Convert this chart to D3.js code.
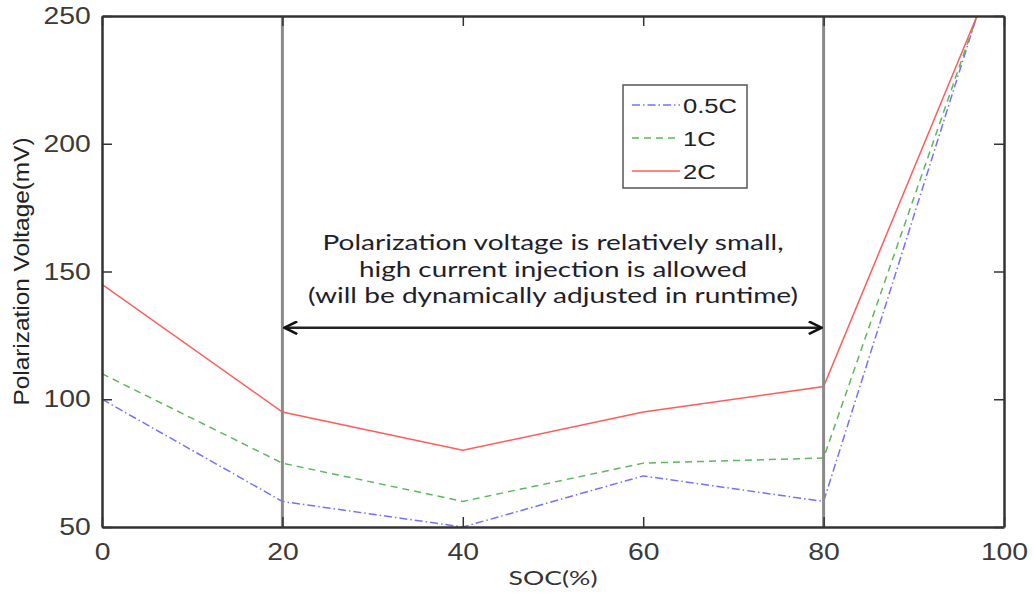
<!DOCTYPE html>
<html>
<head>
<meta charset="utf-8">
<script src="https://cdn.jsdelivr.net/npm/d3@7"></script>
<style>
  body { margin: 0; background: #fff; }
  svg { display: block; }
</style>
</head>
<body>
<svg id="chart" width="1033" height="596"></svg>
<script>
// SOC points (%) and polarization voltage (mV) per charge rate
var soc = [0, 20, 40, 60, 80, 97];
var v05C = [100, 60, 50, 70, 60, 250];
var v1C = [110, 75, 60, 75, 77, 250];
var v2C = [145, 95, 80, 95, 105, 250];

var xTicks = [0, 20, 40, 60, 80, 100];
var yTicks = [50, 100, 150, 200, 250];
var markers = [20, 80];   // vertical guide lines
var arrowLevel = 128;     // mV level of the double arrow

var series = [
    {name: "0.5C", values: v05C, color: "#7272ff", dash: "8,3,1.5,3"},
    {name: "1C", values: v1C, color: "#5cb85c", dash: "7,5"},
    {name: "2C", values: v2C, color: "#ff5c5c", dash: null}
];

var svg = d3.select("#chart");
var plotL = 102, plotR = 1004, plotT = 16, plotB = 527;

var x = d3.scaleLinear().domain([0, 100]).range([plotL, plotR]);
var y = d3.scaleLinear().domain([50, 250]).range([plotB, plotT]);

// the reference picture is stretched sideways, so text is widened too
var stretch = 1.18;

var defs = svg.append("defs");
defs.append("clipPath").attr("id", "clip")
    .append("rect")
    .attr("x", plotL).attr("y", plotT)
    .attr("width", plotR - plotL).attr("height", plotB - plotT);

defs.append("marker")
    .attr("id", "head")
    .attr("viewBox", "0 0 10 10")
    .attr("refX", 9).attr("refY", 5)
    .attr("markerWidth", 16).attr("markerHeight", 14)
    .attr("markerUnits", "userSpaceOnUse")
    .attr("orient", "auto-start-reverse")
    .attr("preserveAspectRatio", "none")
    .append("path")
    .attr("d", "M1,0.5 L9,5 L1,9.5")
    .attr("fill", "none")
    .attr("stroke", "#111")
    .attr("stroke-width", 1.8);

var line = d3.line()
    .x(function(d, i) { return x(soc[i]); })
    .y(function(d) { return y(d); });

var plot = svg.append("g").attr("clip-path", "url(#clip)");

plot.selectAll(".series")
    .data(series)
    .enter()
    .append("path")
    .classed("series", true)
    .attr("d", function(d) { return line(d.values); })
    .attr("fill", "none")
    .attr("stroke", function(d) { return d.color; })
    .attr("stroke-width", 1.5)
    .attr("stroke-dasharray", function(d) { return d.dash; });

// vertical guide lines at 20% and 80%
svg.selectAll(".marker")
    .data(markers)
    .enter()
    .append("line")
    .attr("x1", d => x(d)).attr("x2", d => x(d))
    .attr("y1", plotT).attr("y2", plotB)
    .attr("stroke", "#8a8a8a")
    .attr("stroke-width", 3);

// double-headed arrow between the guides
svg.append("line")
    .attr("x1", x(markers[0]) + 2).attr("x2", x(markers[1]) - 2)
    .attr("y1", y(arrowLevel)).attr("y2", y(arrowLevel))
    .attr("stroke", "#222")
    .attr("stroke-width", 2.4)
    .attr("marker-start", "url(#head)")
    .attr("marker-end", "url(#head)");

var note = ["Polarization voltage is relatively small,",
            "high current injection is allowed",
            "(will be dynamically adjusted in runtime)"];
var noteWidth = [461, 388, 490];
svg.append("g").selectAll("text")
    .data(note)
    .enter()
    .append("text")
    .attr("x", x(50))
    .attr("y", (d, i) => 250 + i * 26.5)
    .attr("text-anchor", "middle")
    .attr("font-family", "Lato, 'Open Sans', sans-serif")
    .attr("font-size", "21px")
    .attr("fill", "#1e1e2c")
    .attr("textLength", (d, i) => noteWidth[i])
    .attr("lengthAdjust", "spacingAndGlyphs")
    .text(d => d);

// axes: MATLAB-like box with inward ticks on all sides
var axisFont = "'Liberation Sans', Arial, sans-serif";
var axisColor = "#333";

var yAxisL = d3.axisLeft(y).tickValues(yTicks).tickSizeInner(-10).tickSizeOuter(0).tickPadding(9.5);
var yAxisR = d3.axisRight(y).tickValues(yTicks).tickSizeInner(-10).tickSizeOuter(0).tickFormat("");
var xAxisB = d3.axisBottom(x).tickValues(xTicks).tickSizeInner(-10).tickSizeOuter(0).tickPadding(16);
var xAxisT = d3.axisTop(x).tickValues(xTicks).tickSizeInner(-10).tickSizeOuter(0).tickFormat("");

var gl = svg.append("g").attr("transform", "translate(" + plotL + ",0)").call(yAxisL);
var gr = svg.append("g").attr("transform", "translate(" + plotR + ",0)").call(yAxisR);
var gb = svg.append("g").attr("transform", "translate(0," + plotB + ")").call(xAxisB);
var gt = svg.append("g").attr("transform", "translate(0," + plotT + ")").call(xAxisT);

[gl, gr, gb, gt].forEach(function(g) {
    g.select(".domain").attr("stroke", axisColor).attr("stroke-width", 2.5);
    g.selectAll(".tick line").attr("stroke", axisColor).attr("stroke-width", 1.5);
    g.selectAll(".tick text")
        .attr("font-family", axisFont)
        .attr("font-size", "24px")
        .attr("fill", "#3a3a3a")
        .attr("transform", "scale(" + stretch + ",1)");
});
gb.selectAll(".tick text").attr("dy", "0.71em");

// axis titles
svg.append("text")
    .attr("x", x(50))
    .attr("y", 585)
    .attr("text-anchor", "middle")
    .attr("font-family", "Lato, 'Open Sans', sans-serif")
    .attr("font-size", "20px")
    .attr("fill", "#333")
    .attr("textLength", 89)
    .attr("lengthAdjust", "spacingAndGlyphs")
    .text("SOC(%)");

svg.append("text")
    .attr("transform", "translate(29," + y(150) + ") rotate(-90) scale(1,1.15)")
    .attr("text-anchor", "middle")
    .attr("font-family", axisFont)
    .attr("font-size", "19px")
    .attr("fill", "#222")
    .attr("textLength", 268)
    .attr("lengthAdjust", "spacingAndGlyphs")
    .text("Polarization Voltage(mV)");

// legend
var legend = svg.append("g").attr("transform", "translate(623,85)");
legend.append("rect")
    .attr("width", 124).attr("height", 103)
    .attr("fill", "#fff")
    .attr("stroke", "#555")
    .attr("stroke-width", 1.5);

var items = legend.selectAll(".item")
    .data(series)
    .enter()
    .append("g")
    .attr("transform", (d, i) => "translate(0," + (20 + i * 33) + ")");

items.append("line")
    .attr("x1", 9).attr("x2", 57)
    .attr("stroke", d => d.color)
    .attr("stroke-width", 1.5)
    .attr("stroke-dasharray", d => d.dash);

items.append("text")
    .attr("transform", "translate(60,0) scale(1.22,1)")
    .attr("dy", "0.36em")
    .attr("font-family", axisFont)
    .attr("font-size", "21px")
    .attr("fill", "#222")
    .text(d => d.name);
</script>
</body>
</html>
